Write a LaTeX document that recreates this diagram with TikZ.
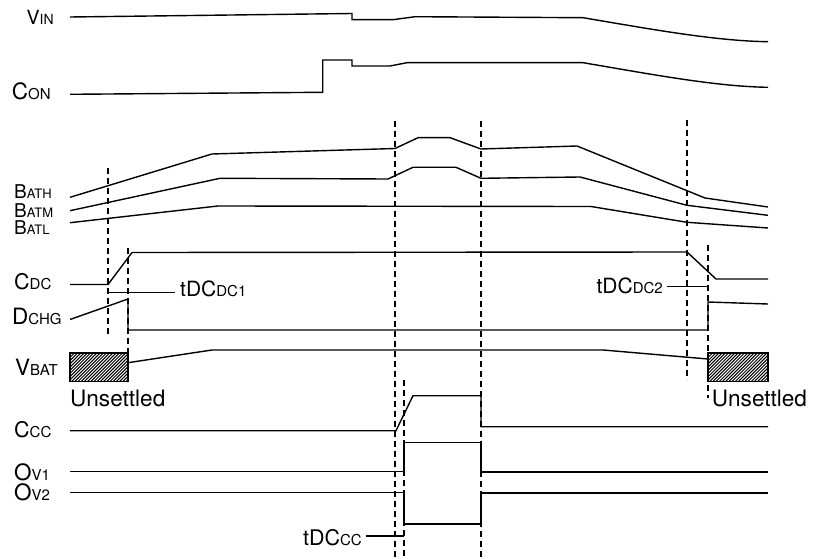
\documentclass[tikz,border=0pt]{standalone}
\usepackage{fontspec}
\setmainfont{TeX Gyre Heros}
\begin{document}
\newcommand\sigl[4]{{\fontsize{#1}{#1}\selectfont #3}{\fontsize{#2}{#2}\selectfont #4}}
\begin{tikzpicture}[x=1pt,y=-1pt,
  wave/.style={line width=1.4pt,line join=miter},
  guide/.style={line width=1.2pt,dash pattern=on 6pt off 4pt},
  lbl/.style={inner sep=0pt,anchor=base west},
  lblr/.style={inner sep=0pt,anchor=base east}]
\useasboundingbox (0,0) rectangle (814,559);
% guide lines
\draw[guide] (108,168) -- (108,336);
\draw[guide] (128,248) -- (128,353);
\draw[guide] (395,121) -- (395,559);
\draw[guide] (481,121) -- (481,559);
\draw[guide] (404,380) -- (404,559);
\draw[guide] (687,120) -- (687,380);
\draw[guide] (708,245) -- (708,398);
% labels
\node[lbl] (vin)  at (26.5,24.3) {\sigl{19.5}{14}{V}{IN}};
\node[lbl] (con)  at (11.7,100) {\sigl{22.5}{15}{C}{ON}};
\node[lbl] (bath) at (14,198.3) {\sigl{19}{13}{B}{ATH}};
\node[lbl] (batm) at (14,217.3) {\sigl{19}{13}{B}{ATM}};
\node[lbl] (batl) at (14,234) {\sigl{19}{13}{B}{ATL}};
\node[lbl] (cdc)  at (14,289) {\sigl{21.5}{15}{C}{DC}};
\node[lbl] (dchg) at (12,324) {\sigl{22.5}{15}{D}{CHG}};
\node[lbl] (vbat) at (15,375) {\sigl{22.5}{15}{V}{BAT}};
\node[lbl] (ccc)  at (14,437) {\sigl{21.5}{15}{C}{CC}};
\node[lbl] (ov1)  at (14,480) {\sigl{22.5}{15}{O}{V1}};
\node[lbl] (ov2)  at (14,500) {\sigl{22.5}{15}{O}{V2}};
\node[lbl] (tdc1) at (180,296.7) {\sigl{21}{15}{tDC}{DC1}};
\node[lblr] (tdc2) at (663,293.3) {\sigl{21}{15}{tDC}{DC2}};
\node[lblr] (tdccc) at (362,545.7) {\sigl{21.5}{15}{tDC}{CC}};
\node[lbl] (uns1) at (70,406.7) {\fontsize{22.6}{22.6}\selectfont Unsettled};
\node[lbl] (uns2) at (711.7,406.7) {\fontsize{22.6}{22.6}\selectfont Unsettled};
% VIN
\draw[wave] (70,17) -- (352,13.5) -- (352,19.7) -- (393,19.7) -- (415,16.7) -- (583,17.7)
  .. controls (650,29) and (715,41) .. (768,41.7);
% CON
\draw[wave] (70,94.3) -- (322.7,92.3) -- (322.7,60) -- (352,60) -- (352,66) -- (390,66) -- (407,62.7) -- (583,62.7)
  .. controls (650,74) and (715,86.5) .. (768,87.3);
% BAT thresholds
\draw[wave] (70,197.3) -- (212,154) -- (395,148.5) -- (418,137.7) -- (450,137.7) -- (481,149) -- (577,146) -- (705,198) -- (768,207);
\draw[wave] (70,210.7) -- (220,178.3) -- (388,179) -- (413,167.3) -- (456,167.3) -- (481,178.3) -- (580,177) -- (687,205.3) -- (768,215.3);
\draw[wave] (70,222.7) -- (218,206) -- (591,206.5) -- (687,222.3) -- (768,228);
% CDC
\draw[wave] (70,284.5) -- (108,284.5) -- (132,252.5) -- (687,252) -- (716,279) -- (768,279);
% tDC markers
\coordinate (t1a) at (108,292.5);
\coordinate (t2b) at (708,286.7);
\draw[line width=1.4pt] (t1a) -- ([xshift=-5pt]tdc1.west |- t1a);
\draw[line width=1.4pt] ([xshift=4pt]tdc2.east |- t2b) -- (t2b);
% DCHG
\draw[wave] (70,319.5) -- (128,299) -- (128,330) -- (708,330) -- (708,302) -- (768,304);
% VBAT
\draw[wave] (128,362.7) -- (212,350) -- (603,350) -- (708,359);
\foreach \bx/\bw in {70/58,708/60}{
  \fill[white] (\bx,353) rectangle ++(\bw,28.5);
  \begin{scope}
    \clip (\bx,353) rectangle ++(\bw,28.5);
    \foreach \k in {-40,-36.8,...,70}{
      \draw[line width=1pt] (\bx+\k,381.5) -- ++(30,-30);
    }
  \end{scope}
  \draw[line width=1.3pt] (\bx,353) rectangle ++(\bw,28.5);
}
% CCC
\draw[wave] (70,430.7) -- (396,430.7) -- (413,395.7) -- (481,395.7) -- (481,426.7) -- (768,426.7);
% OV1
\draw[wave] (70,471.7) -- (404,471.7) -- (404,442.3) -- (481,442.3) -- (481,472) -- (768,472);
% OV2
\draw[wave] (70,492.7) -- (404,492.7) -- (404,524) -- (481,524) -- (481,493) -- (768,493);
% tDCcc marker
\coordinate (tcc) at (404,536);
\draw[line width=2pt] ([xshift=4pt]tdccc.east |- tcc) -- (tcc);
\end{tikzpicture}
\end{document}
